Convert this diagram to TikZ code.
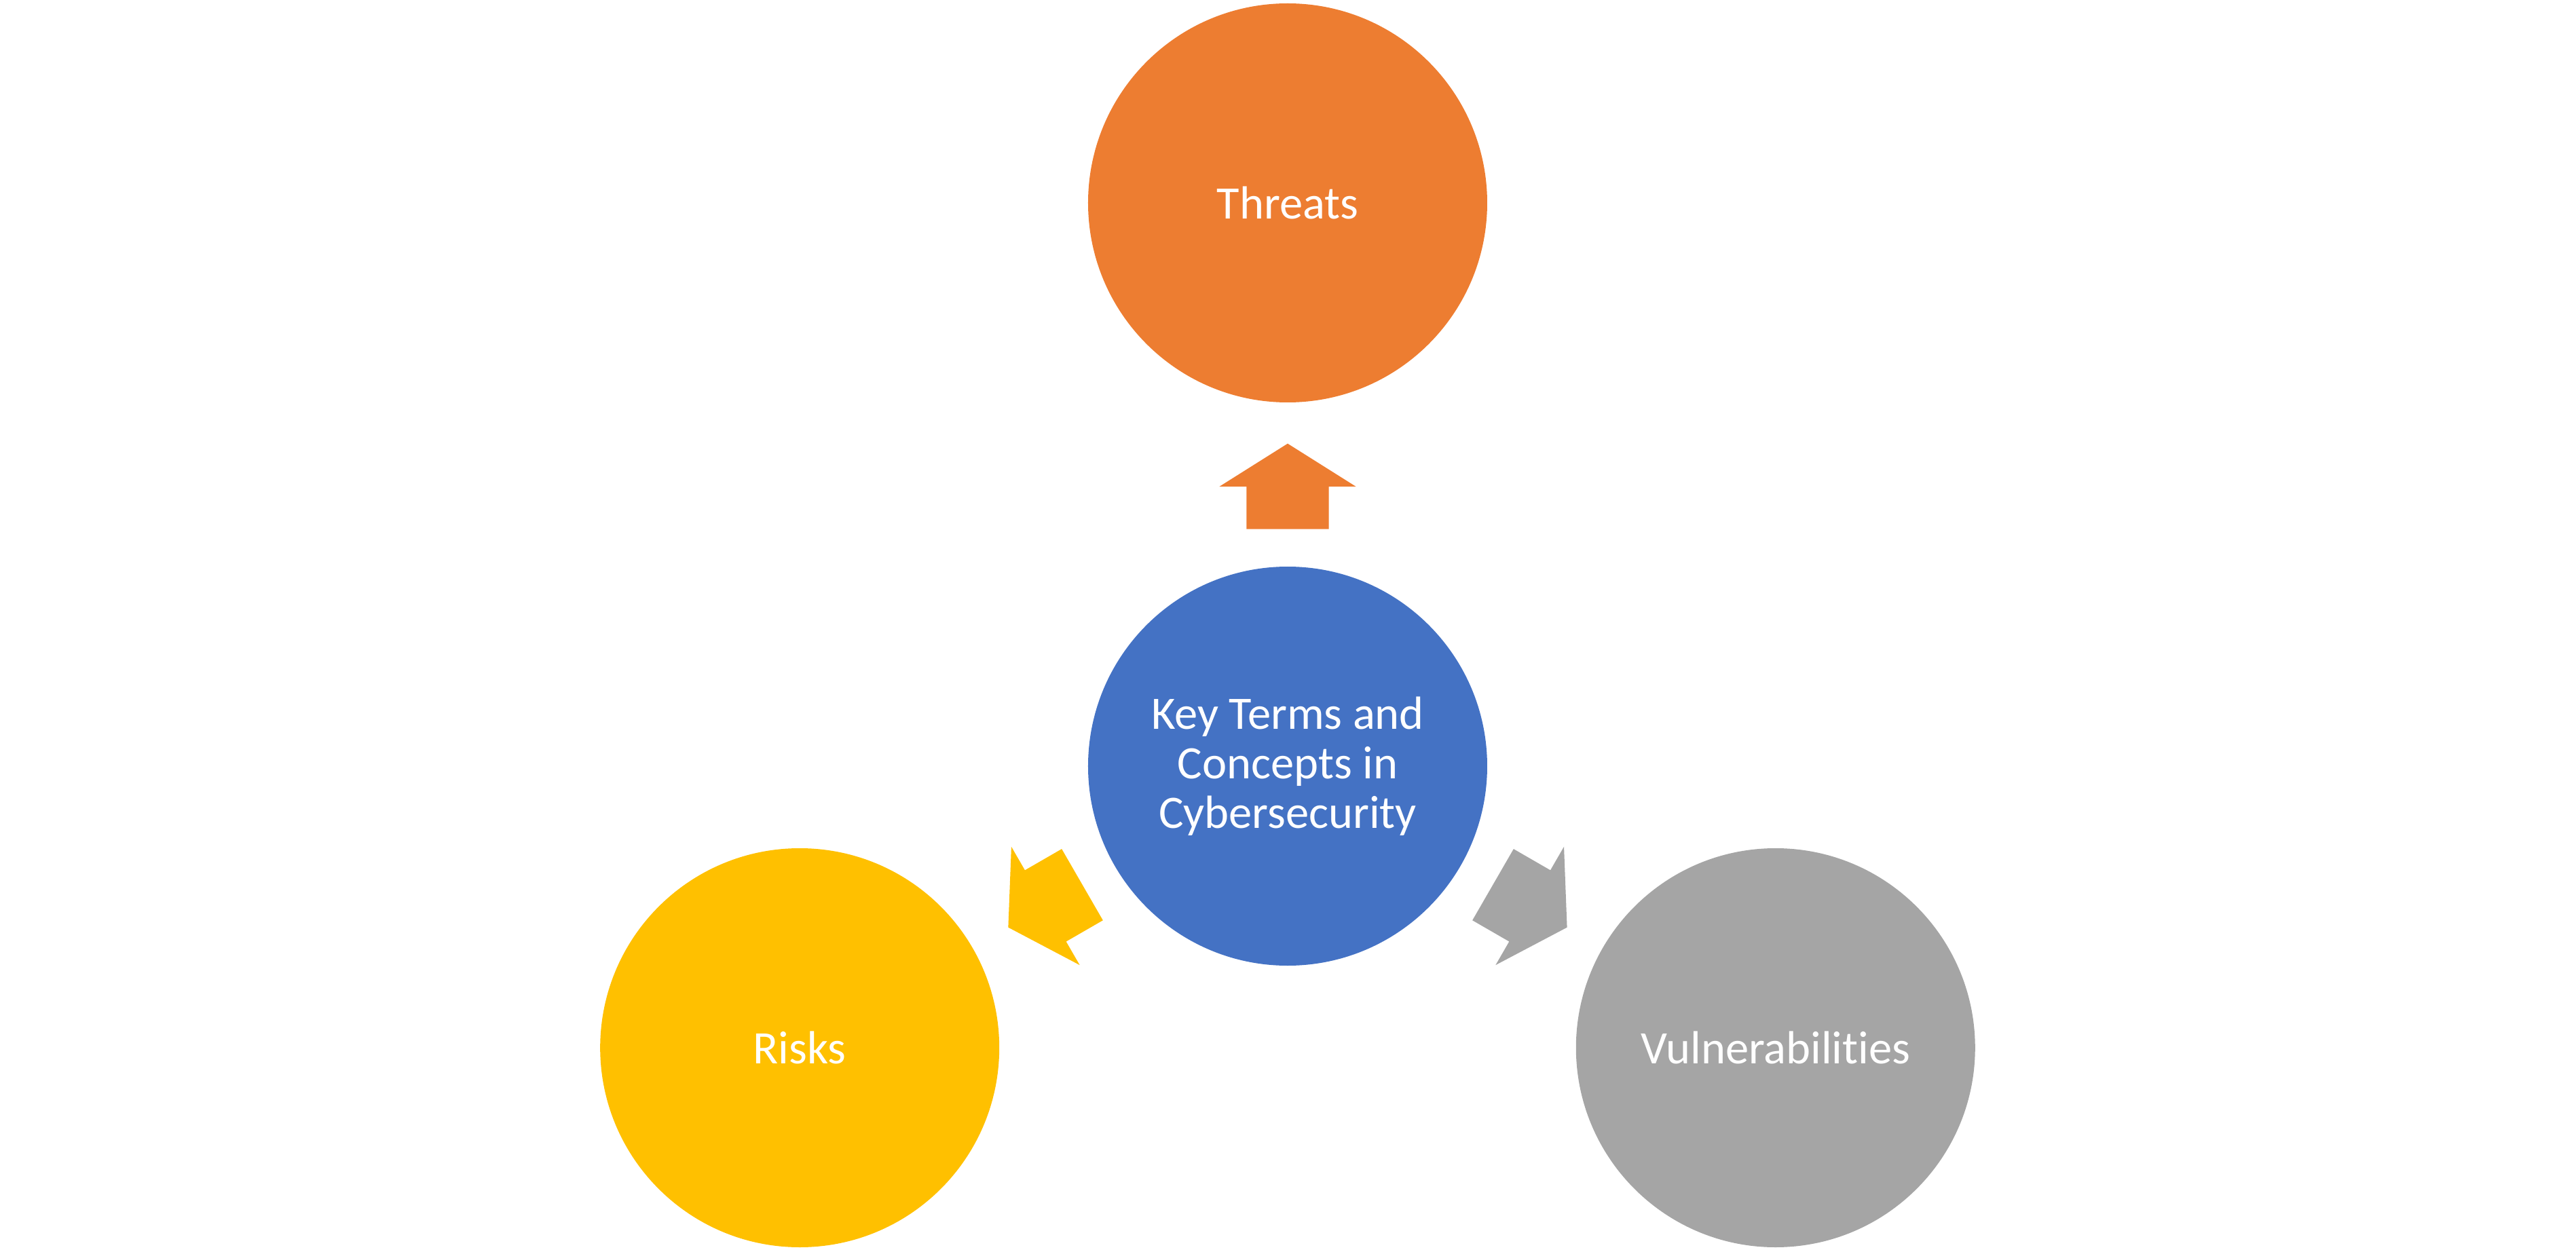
\documentclass[tikz,border=0pt]{standalone}
\usepackage{fontspec}
\setmainfont{Carlito}[Ligatures=NoCommon]
\usetikzlibrary{calc,shapes.arrows}

\definecolor{thrcol}{HTML}{ED7D31}
\definecolor{keycol}{HTML}{4472C4}
\definecolor{riskcol}{HTML}{FFC000}
\definecolor{vulcol}{HTML}{A5A5A5}

\tikzset{
  topic/.style={circle, fill=#1, minimum size=5.88cm, inner sep=0pt, text=white,
    align=center, font=\fontsize{19.5}{20.7}\selectfont},
  blockarrow/.style={single arrow, fill=#1, minimum height=1.26cm, minimum width=2cm,
    single arrow head extend=0.4cm, single arrow tip angle=115.6,
    inner xsep=0pt, inner ysep=0.6cm, anchor=tail}
}

\begin{document}
\begin{tikzpicture}
    \useasboundingbox (-18.97,-7.15) rectangle (18.98,11.29);

    % Centre
    \node[topic=keycol] (key) at (0,0) {Key Terms and\\Concepts in\\Cybersecurity};

    % Outer circles
    \node[topic=thrcol] (threats) at (90:8.3) {Threats};
    \node[topic=riskcol] (risks) at (210:8.3) {Risks};
    \node[topic=vulcol] (vuln) at (330:8.3) {Vulnerabilities};

    % Block arrows
    \node[blockarrow=thrcol, rotate=90] (toThreats) at ($(key)!0.42!(threats)$) {};
    \node[blockarrow=riskcol, rotate=210] (toRisks) at ($(key)!0.42!(risks)$) {};
    \node[blockarrow=vulcol, rotate=330] (toVuln) at ($(key)!0.42!(vuln)$) {};
\end{tikzpicture}
\end{document}
